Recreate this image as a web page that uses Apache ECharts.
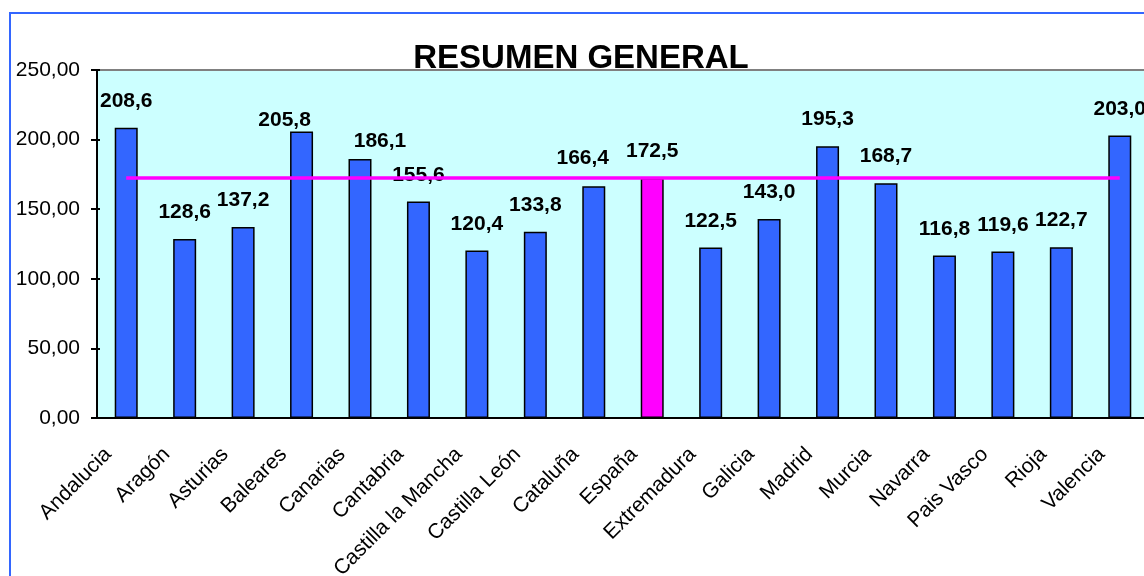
<!DOCTYPE html>
<html>
<head>
<meta charset="utf-8">
<script src="https://cdn.jsdelivr.net/npm/echarts@6/dist/echarts.min.js"></script>
<style>
  html, body { margin: 0; padding: 0; background: #fff; }
  #chart { width: 1144px; height: 576px; }
</style>
</head>
<body>
<div id="chart"></div>
<script>
const regions = ['Andalucia', 'Aragón', 'Asturias', 'Baleares', 'Canarias', 'Cantabria',
  'Castilla la Mancha', 'Castilla León', 'Cataluña', 'España', 'Extremadura', 'Galicia',
  'Madrid', 'Murcia', 'Navarra', 'Pais Vasco', 'Rioja', 'Valencia']
const values = [208.6, 128.6, 137.2, 205.8, 186.1, 155.6,
  120.4, 133.8, 166.4, 172.5, 122.5, 143.0,
  195.3, 168.7, 116.8, 119.6, 122.7, 203.0]
const nationalName = 'España'
const yTicks = [0, 50, 100, 150, 200, 250]

const nationalValue = values[regions.indexOf(nationalName)]
const comma = (v, d) => v.toFixed(d).replace('.', ',')

// a few labels were dragged around by hand in the original sheet
const labelShift = {
  Baleares: [-17, 15],
  Canarias: [20, 9],
  'Cataluña': [-11, -2],
}

const chart = echarts.init(document.getElementById('chart'))
const font = 'Arial, "Liberation Sans", sans-serif'

const option = {
  animation: false,
  title: {
    text: 'RESUMEN GENERAL',
    left: 576,
    top: 37,
    textAlign: 'center',
    textStyle: { fontFamily: font, fontSize: 33, fontWeight: 'bold', color: '#000' },
  },
  graphic: [{
    type: 'rect',
    shape: { x: 10, y: 13, width: 1300, height: 800 },
    style: { fill: 'none', stroke: '#3366FF', lineWidth: 2 },
    silent: true,
  }],
  grid: {
    left: 97,
    top: 70,
    width: 1052,
    bottom: 158,
    outerBoundsMode: 'none',
    show: true,
    backgroundColor: '#CCFFFF',
    borderColor: '#808080',
    borderWidth: 2,
  },
  xAxis: [{
    type: 'category',
    data: regions,
    axisLine: { lineStyle: { color: '#000', width: 2 } },
    axisTick: { length: 6, lineStyle: { color: '#000', width: 2 } },
    axisLabel: {
      rotate: 45,
      margin: 30,
      interval: 0,
      verticalAlign: 'bottom',
      padding: [0, 15, 0, 0],
      color: '#000',
      fontFamily: font,
      fontSize: 21,
    },
  }, {
    type: 'category',
    data: regions,
    position: 'bottom',
    axisLine: { show: false },
    axisTick: { inside: true, length: 5, lineStyle: { color: '#000', width: 2 } },
    axisLabel: { show: false },
  }],
  yAxis: [{
    type: 'value',
    min: yTicks[0],
    max: yTicks[yTicks.length - 1],
    interval: 50,
    axisLine: { show: true, lineStyle: { color: '#000', width: 2 } },
    axisTick: { show: true, length: 6, lineStyle: { color: '#000', width: 2 } },
    splitLine: { show: false },
    axisLabel: {
      margin: 17,
      color: '#000',
      fontFamily: font,
      fontSize: 21,
      formatter: (v) => comma(v, 2),
    },
  }, {
    type: 'value',
    position: 'left',
    min: yTicks[0],
    max: yTicks[yTicks.length - 1],
    interval: 50,
    axisLine: { show: false },
    axisTick: { show: true, inside: true, length: 3, lineStyle: { color: '#000', width: 2 } },
    splitLine: { show: false },
    axisLabel: { show: false },
  }],
  series: [{
    type: 'bar',
    barWidth: 23,
    data: values.map((v, i) => {
      const item = { value: v }
      if (regions[i] === nationalName) item.itemStyle = { color: '#FF00FF' }
      if (labelShift[regions[i]]) item.label = { offset: labelShift[regions[i]] }
      return item
    }),
    itemStyle: { color: '#3366FF', borderColor: '#000', borderWidth: 1.5 },
    label: {
      show: true,
      position: 'top',
      distance: 16,
      color: '#000',
      fontFamily: font,
      fontSize: 21,
      fontWeight: 'bold',
      formatter: (p) => comma(p.value, 1),
    },
  }, {
    type: 'line',
    data: regions.map(() => nationalValue),
    symbol: 'none',
    lineStyle: { color: '#FF00FF', width: 3.5 },
    silent: true,
  }],
}

chart.setOption(option)
</script>
</body>
</html>
